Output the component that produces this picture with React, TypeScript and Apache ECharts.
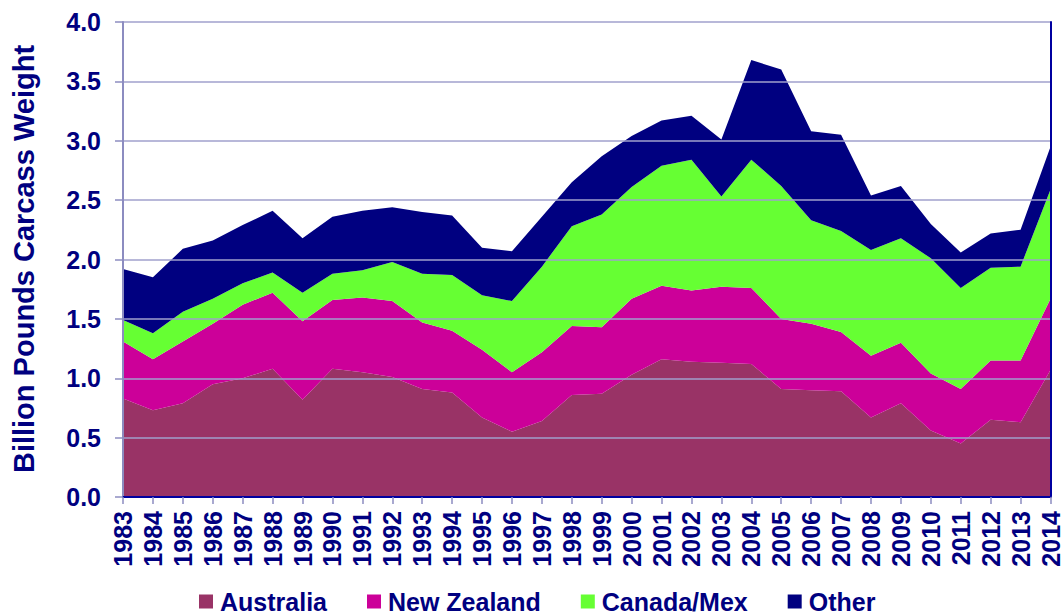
import React, { useEffect, useRef } from "react";
import * as echarts from "echarts";

const years = [
  "1983", "1984", "1985", "1986", "1987", "1988", "1989", "1990",
  "1991", "1992", "1993", "1994", "1995", "1996", "1997", "1998",
  "1999", "2000", "2001", "2002", "2003", "2004", "2005", "2006",
  "2007", "2008", "2009", "2010", "2011", "2012", "2013", "2014",
];

const australia = [
  0.83, 0.73, 0.79, 0.95, 1.0, 1.08, 0.82, 1.08, 1.05, 1.01, 0.91, 0.88,
  0.67, 0.55, 0.64, 0.86, 0.87, 1.03, 1.16, 1.14, 1.13, 1.12, 0.91, 0.9,
  0.89, 0.67, 0.79, 0.56, 0.45, 0.65, 0.63, 1.07,
];

const newZealand = [
  0.48, 0.43, 0.52, 0.51, 0.62, 0.64, 0.66, 0.58, 0.63, 0.64, 0.56, 0.52,
  0.57, 0.5, 0.58, 0.58, 0.56, 0.64, 0.62, 0.6, 0.64, 0.64, 0.59, 0.56,
  0.5, 0.52, 0.51, 0.48, 0.46, 0.5, 0.52, 0.6,
];

const canadaMex = [
  0.18, 0.22, 0.25, 0.21, 0.18, 0.17, 0.24, 0.22, 0.23, 0.33, 0.41, 0.47,
  0.46, 0.6, 0.72, 0.84, 0.95, 0.94, 1.01, 1.1, 0.76, 1.08, 1.12, 0.87,
  0.85, 0.89, 0.88, 0.97, 0.85, 0.78, 0.79, 0.92,
];

const other = [
  0.43, 0.47, 0.53, 0.49, 0.49, 0.52, 0.46, 0.48, 0.5, 0.46, 0.52, 0.5,
  0.4, 0.42, 0.42, 0.37, 0.49, 0.43, 0.38, 0.37, 0.48, 0.84, 0.98, 0.75,
  0.81, 0.46, 0.44, 0.29, 0.3, 0.29, 0.31, 0.36,
];

const seriesNames = ["Australia", "New Zealand", "Canada/Mex", "Other"];
const seriesColors = ["#993366", "#CC0099", "#66FF33", "#000080"];
const seriesData = [australia, newZealand, canadaMex, other];

const yTitle = "Billion Pounds Carcass Weight";

const FONT = "'Liberation Sans', Arial, sans-serif";
const TEXT = "#000080";
const AXIS = "#8C8CC0";
const GRIDC = "#A0A0CC";
const BORDER = "#0000A0";

export default function App() {
  const ref = useRef<HTMLDivElement>(null);

  useEffect(() => {
    if (!ref.current) return;
    const chart = echarts.init(ref.current, undefined, { renderer: "svg" });
    const grid = { left: 123, right: 11, top: 22, bottom: 118 };
    chart.setOption({
      animation: false,
      backgroundColor: "#ffffff",
      grid,
      legend: {
        data: seriesNames,
        left: 199,
        top: 589,
        padding: 0,
        itemWidth: 14,
        itemHeight: 14,
        itemGap: 40,
        icon: "rect",
        textStyle: {
          fontFamily: FONT,
          fontWeight: "bold",
          fontSize: 25,
          lineHeight: 22,
          color: TEXT,
          padding: [0, 0, 0, 2],
        },
      },
      graphic: [
        {
          type: "text",
          x: 24,
          y: 259,
          rotation: Math.PI / 2,
          style: {
            text: yTitle,
            fontFamily: FONT,
            fontWeight: "bold",
            fontSize: 29,
            fill: TEXT,
            textAlign: "center",
            textVerticalAlign: "middle",
          },
        },
      ],
      xAxis: [
        {
          type: "category",
          data: years,
          boundaryGap: false,
          axisLine: { show: true, lineStyle: { color: AXIS, width: 2 } },
          axisTick: {
            show: true,
            alignWithLabel: true,
            length: 7,
            lineStyle: { color: AXIS, width: 1.5 },
          },
          axisLabel: {
            rotate: 90,
            interval: 0,
            margin: 14,
            fontFamily: FONT,
            fontWeight: "bold",
            fontSize: 25,
            color: TEXT,
          },
          splitLine: { show: false },
          z: 5,
        },
        {
          type: "category",
          data: years,
          position: "top",
          boundaryGap: false,
          axisLine: { show: true, lineStyle: { color: BORDER, width: 2 } },
          axisTick: { show: false },
          axisLabel: { show: false },
          splitLine: { show: false },
          z: 5,
        },
      ],
      yAxis: [
        {
          type: "value",
          min: 0,
          max: 4,
          interval: 0.5,
          axisLine: { show: true, lineStyle: { color: AXIS, width: 2 } },
          axisTick: {
            show: true,
            length: 8,
            lineStyle: { color: AXIS, width: 1.5 },
          },
          axisLabel: {
            margin: 22,
            fontFamily: FONT,
            fontWeight: "bold",
            fontSize: 25,
            color: TEXT,
            formatter: (v: number) => v.toFixed(1),
          },
          splitLine: { show: true, lineStyle: { color: GRIDC, width: 1.5 } },
          z: 5,
        },
        {
          type: "value",
          min: 0,
          max: 4,
          interval: 0.5,
          position: "right",
          axisLine: { show: true, lineStyle: { color: BORDER, width: 2 } },
          axisTick: { show: false },
          axisLabel: { show: false },
          splitLine: { show: false },
          z: 5,
        },
      ],
      series: seriesNames.map((name, i) => ({
        name,
        type: "line",
        stack: "total",
        data: seriesData[i],
        showSymbol: false,
        symbol: "none",
        lineStyle: { width: 0 },
        itemStyle: { color: seriesColors[i] },
        areaStyle: { color: seriesColors[i], opacity: 1 },
        z: 2,
      })),
    });
    return () => chart.dispose();
  }, []);

  return (
    <div
      ref={ref}
      style={{ position: "fixed", left: 0, top: 0, width: 1063, height: 615 }}
    />
  );
}
